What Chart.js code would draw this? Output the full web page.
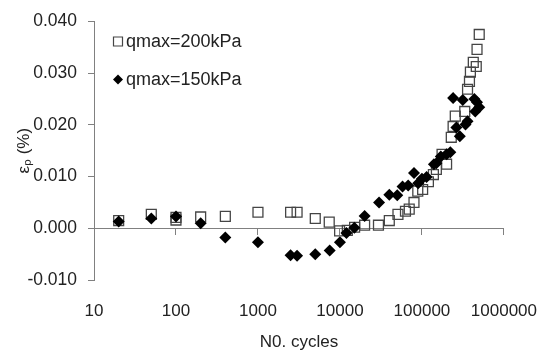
<!DOCTYPE html>
<html>
<head>
<meta charset="utf-8">
<script src="https://cdn.jsdelivr.net/npm/chart.js@4/dist/chart.umd.min.js"></script>
<style>
  body { margin: 0; background: #fff; }
  #wrap { width: 558px; height: 351px; }
</style>
</head>
<body>
<div id="wrap"><canvas id="chart_eps" width="558" height="351"></canvas></div>
<script>
// cycles / strain
const cycles200 = [20, 50, 100, 100, 200, 400, 1000, 2500, 3000, 5000, 7400, 9900, 12300, 15100, 20000, 29500, 40000, 51000, 63000, 70000, 80000, 89000, 102000, 120000, 138000, 150000, 176000, 200000, 228000, 240000, 255000, 333000, 360000, 380000, 390000, 423000, 460000, 470000, 500000];
const strain200 = [0.0015, 0.0027, 0.0021, 0.0016, 0.0022, 0.0023, 0.0031, 0.0031, 0.0031, 0.0019, 0.0012, -0.0005, -0.0004, 0.0002, 0.0006, 0.0006, 0.0015, 0.0027, 0.0033, 0.0037, 0.005, 0.0072, 0.0075, 0.009, 0.0104, 0.0114, 0.0143, 0.0124, 0.0176, 0.0197, 0.0217, 0.0226, 0.0269, 0.0284, 0.0302, 0.0321, 0.0313, 0.0346, 0.0375];

const cycles150 = [20, 50, 100, 200, 400, 1000, 2500, 3000, 5000, 7500, 10000, 12000, 15000, 20000, 30000, 40000, 50000, 58000, 68000, 80000, 90000, 100000, 114000, 140000, 150000, 170000, 200000, 222000, 240000, 263000, 290000, 315000, 340000, 360000, 436000, 447000, 470000, 500000];
const strain150 = [0.0013, 0.0019, 0.0023, 0.001, -0.0018, -0.0027, -0.0052, -0.0053, -0.005, -0.0043, -0.0027, -0.0009, 0.0001, 0.0024, 0.005, 0.0065, 0.0064, 0.0081, 0.0083, 0.0107, 0.0087, 0.0096, 0.0099, 0.0124, 0.0126, 0.0139, 0.0143, 0.0147, 0.0252, 0.0195, 0.0178, 0.0248, 0.0201, 0.0207, 0.025, 0.0226, 0.0244, 0.0234];

const seriesNames = ["qmax=200kPa", "qmax=150kPa"];
const xTicks = [10, 100, 1000, 10000, 100000, 1000000];
const yTicks = [-0.01, 0, 0.01, 0.02, 0.03, 0.04];

const axisGray = "#808080";
const textColor = "#222";
const fontFamily = "'Liberation Sans', Arial, sans-serif";

function toPoints(xs, ys) {
  return xs.map((x, i) => ({ x: x, y: ys[i] }));
}

function keepDecades(scale) {
  scale.ticks = xTicks.map((v) => ({ value: v }));
}

// legend drawn inside the plot, top left
const insideLegend = {
  id: "insideLegend",
  afterDraw(chart) {
    const ctx = chart.ctx;
    const area = chart.chartArea;
    const x0 = area.left + 24;
    const rows = [area.top + 20, area.top + 58];
    ctx.save();
    ctx.font = "18px " + fontFamily;
    ctx.textBaseline = "middle";
    chart.data.datasets.forEach((ds, i) => {
      const y = rows[i];
      ctx.beginPath();
      if (ds.pointStyle === "rect") {
        ctx.rect(x0 - 4.5, y - 4.5, 9, 9);
        ctx.lineWidth = 1.2;
        ctx.strokeStyle = ds.borderColor;
        ctx.stroke();
      } else {
        ctx.moveTo(x0, y - 5);
        ctx.lineTo(x0 + 5, y);
        ctx.lineTo(x0, y + 5);
        ctx.lineTo(x0 - 5, y);
        ctx.closePath();
        ctx.fillStyle = ds.backgroundColor;
        ctx.fill();
      }
      ctx.fillStyle = textColor;
      ctx.textAlign = "left";
      ctx.fillText(ds.label, x0 + 8, y + 1);
    });
    ctx.restore();
  },
};

const chart_eps = new Chart(document.getElementById("chart_eps"), {
  type: "scatter",
  data: {
    datasets: [
      {
        label: seriesNames[0],
        data: toPoints(cycles200, strain200),
        pointStyle: "rect",
        pointRadius: 7,
        pointHoverRadius: 7,
        borderWidth: 1.3,
        borderColor: "#454545",
        backgroundColor: "rgba(255,255,255,0)",
        order: 2,
      },
      {
        label: seriesNames[1],
        data: toPoints(cycles150, strain150),
        pointStyle: "rectRot",
        pointRadius: 6,
        pointHoverRadius: 6,
        borderWidth: 0,
        borderColor: "#000",
        backgroundColor: "#000",
        order: 1,
      },
    ],
  },
  options: {
    responsive: false,
    animation: false,
    events: [],
    layout: { padding: { top: 20, right: 35, left: 0, bottom: 0 } },
    scales: {
      x: {
        type: "logarithmic",
        position: "bottom",
        min: 10,
        max: 1000000,
        afterBuildTicks: keepDecades,
        afterFit(scale) {
          scale.height = 71;
        },
        grid: { display: false, drawTicks: false },
        border: { display: false },
        ticks: {
          autoSkip: false,
          maxRotation: 0,
          padding: 21,
          color: textColor,
          font: { family: fontFamily, size: 17 },
          callback: (v) => String(v),
        },
        title: {
          display: true,
          text: "N0. cycles",
          color: textColor,
          font: { family: fontFamily, size: 17, lineHeight: 1 },
          padding: { top: 0, bottom: 0 },
        },
      },
      xZero: {
        type: "logarithmic",
        axis: "x",
        position: { y: 0 },
        min: 10,
        max: 1000000,
        afterBuildTicks: keepDecades,
        grid: {
          drawOnChartArea: false,
          drawTicks: true,
          tickLength: 6,
          color: axisGray,
        },
        border: { display: true, color: axisGray, width: 1 },
        ticks: { display: false },
      },
      y: {
        min: -0.01,
        max: 0.04,
        afterBuildTicks(scale) {
          scale.ticks = yTicks.map((v) => ({ value: v }));
        },
        afterFit(scale) {
          scale.width = 94;
        },
        grid: {
          drawOnChartArea: false,
          drawTicks: true,
          tickLength: 6,
          color: axisGray,
        },
        border: { display: true, color: axisGray, width: 1 },
        ticks: {
          padding: 11,
          color: textColor,
          font: { family: fontFamily, size: 17.5 },
          callback: (v) => Number(v).toFixed(3),
        },
        title: {
          display: true,
          text: "εₚ (%)",
          color: textColor,
          font: { family: fontFamily, size: 17 },
          padding: { top: 14, bottom: 0 },
        },
      },
    },
    plugins: {
      legend: { display: false },
      tooltip: { enabled: false },
    },
  },
  plugins: [insideLegend],
});
</script>
</body>
</html>
